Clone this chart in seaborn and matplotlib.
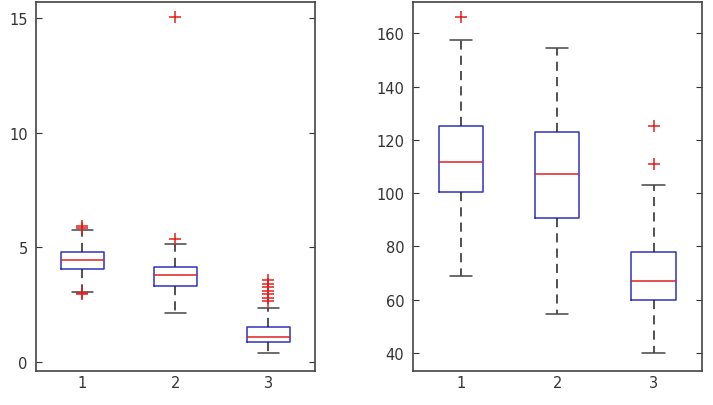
""" Two MATLAB-style box plots side by side """

import numpy as np
import matplotlib
matplotlib.use("Agg")
import matplotlib.pyplot as plt
import seaborn as sns

# group labels
groups = [1, 2, 3]

# left panel: five-number summaries
left_low = [3.03, 2.13, 0.37]
left_q1 = [4.04, 3.32, 0.85]
left_med = [4.44, 3.79, 1.09]
left_q3 = [4.78, 4.13, 1.53]
left_high = [5.76, 5.14, 2.36]
left_out_x = [1, 1, 1, 1, 2, 2, 3, 3, 3, 3, 3, 3, 3]
left_out_y = [5.85, 5.95, 2.97, 3.02, 5.36, 15.05, 2.65, 2.8, 2.95, 3.1, 3.25, 3.4, 3.55]

# right panel
right_low = [68.7, 54.5, 39.9]
right_q1 = [100.4, 90.6, 59.8]
right_med = [111.7, 107.3, 67.0]
right_q3 = [125.1, 123.0, 77.8]
right_high = [157.5, 154.5, 102.9]
right_out_x = [1, 3, 3]
right_out_y = [166.0, 125.3, 110.9]

left_yticks = [0, 5, 10, 15]
right_yticks = [40, 60, 80, 100, 120, 140, 160]


def draw_panel(ax, low, q1, med, q3, high, out_x, out_y, ylim, yticks):
    stats = []
    for i in range(len(groups)):
        stats.append({"whislo": low[i], "q1": q1[i], "med": med[i],
                      "q3": q3[i], "whishi": high[i], "fliers": []})
    ax.bxp(stats, positions=groups, widths=0.46, showfliers=False,
           boxprops=dict(color="#3030c0", linewidth=1.1),
           medianprops=dict(color="#e02020", linewidth=1.1),
           whiskerprops=dict(color="#222222", linewidth=1.1, linestyle=(0, (6, 4))),
           capprops=dict(color="#444444", linewidth=1.1), capwidths=0.23)
    sns.scatterplot(x=out_x, y=out_y, marker="+", color="#e02020", s=70,
                    linewidth=1.1, ax=ax, zorder=5)
    ax.set_xlim(0.5, 3.5)
    ax.set_ylim(*ylim)
    ax.set_xticks(groups)
    ax.set_xticklabels([str(g) for g in groups])
    ax.set_yticks(yticks)
    ax.tick_params(axis="y", direction="in", length=4, left=True, right=True,
                   pad=6, color="#333333", labelsize=10.5, labelcolor="#333333")
    ax.tick_params(axis="x", length=0, pad=3, labelsize=10.5, labelcolor="#333333")
    for s in ax.spines.values():
        s.set_color("#444444")
        s.set_linewidth(1.2)


sns.set_style("white")
plt.rcParams["font.family"] = ["DejaVu Sans"]

fig = plt.figure(figsize=(7.13, 4.06), dpi=100)
ax1 = fig.add_axes([0.0505, 0.0837, 0.391, 0.909])
ax2 = fig.add_axes([0.5788, 0.0845, 0.4053, 0.908])

draw_panel(ax1, left_low, left_q1, left_med, left_q3, left_high,
           left_out_x, left_out_y, (-0.41, 15.72), left_yticks)
draw_panel(ax2, right_low, right_q1, right_med, right_q3, right_high,
           right_out_x, right_out_y, (33.3, 171.8), right_yticks)

fig.savefig("out.png", dpi=100)
